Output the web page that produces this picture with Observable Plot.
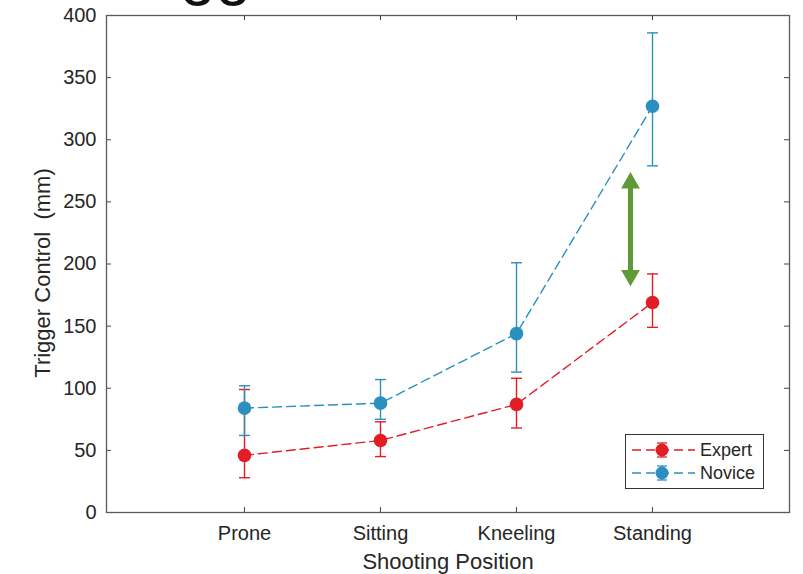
<!DOCTYPE html>
<html><head><meta charset="utf-8">
<script src="https://cdn.jsdelivr.net/npm/d3@7"></script>
<script src="https://cdn.jsdelivr.net/npm/@observablehq/plot@0.6"></script>
<style>
body{margin:0;background:#fff;font-family:"Liberation Sans",Arial,sans-serif;}
#wrap{position:relative;width:803px;height:574px;overflow:hidden;background:#fff;}
#title{position:absolute;left:108px;top:-61px;font-size:64px;line-height:64px;color:#111;white-space:nowrap;}
#legend{position:absolute;left:625px;top:434px;}
</style></head><body>
<div id="wrap"><div id="title">Trigger</div><div id="chart"></div><svg id="legend" width="140" height="56"></svg></div>
<script>
const positions = ["Prone", "Sitting", "Kneeling", "Standing"];
const seriesNames = ["Expert", "Novice"];
const seriesColors = ["#e21d26", "#2b8fc0"];
const expertMean = [46, 58, 87, 169];
const expertLow  = [28, 45, 68, 149];
const expertHigh = [99, 73, 108, 192];
const noviceMean = [84, 88, 144, 327];
const noviceLow  = [62, 75, 113, 279];
const noviceHigh = [102, 107, 201, 386];
const yTicks = [0, 50, 100, 150, 200, 250, 300, 350, 400];
const xLabel = "Shooting Position";
const yLabel = "Trigger Control  (mm)";
// annotation arrow (tips, in mm)
const arrowAt = ["Standing"];
const arrowTop = [274];
const arrowBottom = [182];

const series = [
  {name: seriesNames[0], color: seriesColors[0], mean: expertMean, low: expertLow, high: expertHigh},
  {name: seriesNames[1], color: seriesColors[1], mean: noviceMean, low: noviceLow, high: noviceHigh}
];
const capSymbol = {draw(ctx, size) { const w = Math.sqrt(size / Math.PI); ctx.moveTo(-w, 0); ctx.lineTo(w, 0); }};

const seriesMarks = series.flatMap(s => {
  const rows = positions.map((p, i) => ({p, m: s.mean[i], lo: s.low[i], hi: s.high[i]}));
  return [
    Plot.line(rows, {x: "p", y: "m", stroke: s.color, strokeWidth: 1.4, strokeDasharray: "9,5"}),
    Plot.ruleX(rows, {x: "p", y1: "lo", y2: "hi", stroke: s.color, strokeWidth: 1.4}),
    Plot.dot(rows, {x: "p", y: "lo", symbol: capSymbol, r: 5.5, stroke: s.color, strokeWidth: 1.4}),
    Plot.dot(rows, {x: "p", y: "hi", symbol: capSymbol, r: 5.5, stroke: s.color, strokeWidth: 1.4}),
    Plot.dot(rows, {x: "p", y: "m", r: 6.8, fill: s.color, stroke: null})
  ];
});

const green = "#5e9b38";
const chart = Plot.plot({
  width: 803, height: 574,
  marginLeft: 106, marginRight: 14, marginTop: 15, marginBottom: 62,
  style: {fontFamily: "'Liberation Sans', Arial, sans-serif", fontSize: "20px", color: "#262626", background: "transparent", overflow: "visible"},
  x: {type: "point", domain: positions, padding: 1},
  y: {domain: [0, 400]},
  marks: [
    Plot.axisX({tickSize: 0, tickPadding: 13, label: null}),
    Plot.axisY({ticks: yTicks, tickSize: 0, tickPadding: 10, label: null}),
    Plot.tickX(positions, {x: d => d, insetTop: 492, stroke: "#444", strokeWidth: 1}),
    Plot.tickX(positions, {x: d => d, insetBottom: 492, stroke: "#444", strokeWidth: 1}),
    Plot.tickY(yTicks, {y: d => d, insetRight: 678, stroke: "#444", strokeWidth: 1}),
    Plot.tickY(yTicks, {y: d => d, insetLeft: 678, stroke: "#444", strokeWidth: 1}),
    ...seriesMarks,
    Plot.ruleX(arrowAt, {x: d => d, y1: () => arrowTop[0], y2: () => arrowBottom[0], insetTop: 11, insetBottom: 11, dx: -22, stroke: green, strokeWidth: 5}),
    Plot.dot(arrowAt, {x: d => d, y: () => arrowTop[0], symbol: "triangle", r: 7, dx: -22, dy: 10.9, fill: green, stroke: null}),
    Plot.dot(arrowAt, {x: d => d, y: () => arrowBottom[0], symbol: "triangle", rotate: 180, r: 7, dx: -22, dy: -10.9, fill: green, stroke: null}),
    Plot.frame({stroke: "#5a5a5a", strokeWidth: 1.3}),
    Plot.text([xLabel], {frameAnchor: "bottom", lineAnchor: "middle", textAnchor: "middle", dy: 49, fontSize: 22, fill: "#262626"}),
    Plot.text([yLabel], {frameAnchor: "left", lineAnchor: "middle", textAnchor: "middle", dx: -64, dy: 9, rotate: -90, fontSize: 22, fill: "#262626"})
  ]
});
document.getElementById("chart").appendChild(chart);

// legend
const lg = d3.select("#legend");
lg.append("rect").attr("x", 0.5).attr("y", 0.5).attr("width", 138).attr("height", 54).attr("fill", "#fff").attr("stroke", "#333").attr("stroke-width", 1);
series.forEach((s, i) => {
  const cy = 16 + i * 23;
  const g = lg.append("g").attr("transform", `translate(0,${cy})`);
  g.append("line").attr("x1", 7).attr("x2", 70).attr("y1", 0).attr("y2", 0).attr("stroke", s.color).attr("stroke-width", 1.3).attr("stroke-dasharray", "9,5");
  g.append("line").attr("x1", 37).attr("x2", 37).attr("y1", -7).attr("y2", 7).attr("stroke", s.color).attr("stroke-width", 1.3);
  g.append("line").attr("x1", 32).attr("x2", 42).attr("y1", -7).attr("y2", -7).attr("stroke", s.color).attr("stroke-width", 1.3);
  g.append("line").attr("x1", 32).attr("x2", 42).attr("y1", 7).attr("y2", 7).attr("stroke", s.color).attr("stroke-width", 1.3);
  g.append("circle").attr("cx", 37).attr("cy", 0).attr("r", 6.5).attr("fill", s.color);
  g.append("text").attr("x", 75).attr("y", 0).attr("dy", "0.35em").attr("font-size", 18).attr("fill", "#262626")
    .attr("font-family", "'Liberation Sans', Arial, sans-serif").text(s.name);
});
</script>
</body></html>
